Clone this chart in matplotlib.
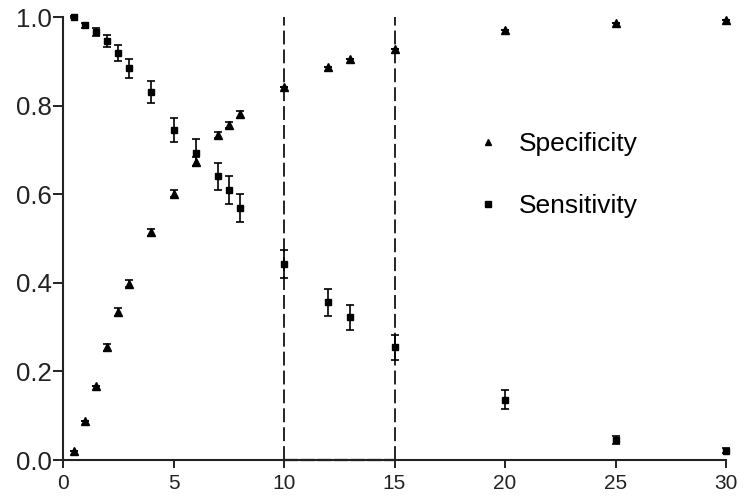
import matplotlib
matplotlib.use("Agg")
import matplotlib.pyplot as plt
from matplotlib.lines import Line2D

plt.rcParams['font.family'] = ['Liberation Sans', 'DejaVu Sans']
plt.rcParams['lines.scale_dashes'] = False

x_sens = [0.5, 1, 1.5, 2, 2.5, 3, 4, 5, 6, 7, 7.5, 8, 10, 12, 13, 15, 20, 25, 30]
sensitivity = [1.0, 0.981, 0.966, 0.946, 0.919, 0.884, 0.831, 0.745, 0.694, 0.640,
               0.610, 0.569, 0.443, 0.356, 0.322, 0.254, 0.136, 0.045, 0.021]
sens_err = [0.003, 0.006, 0.010, 0.014, 0.018, 0.021, 0.025, 0.028, 0.030, 0.030,
            0.031, 0.032, 0.032, 0.031, 0.029, 0.028, 0.022, 0.010, 0.005]

x_spec = [0.5, 1, 1.5, 2, 2.5, 3, 4, 5, 6, 7, 7.5, 8, 10, 12, 13, 15, 20, 25, 30]
specificity = [0.021, 0.087, 0.167, 0.254, 0.334, 0.398, 0.514, 0.601, 0.673, 0.734,
               0.757, 0.780, 0.841, 0.887, 0.905, 0.928, 0.970, 0.987, 0.994]
spec_err = [0.0, 0.0, 0.0, 0.007, 0.008, 0.008, 0.008, 0.008, 0.010, 0.007,
            0.007, 0.007, 0.0, 0.0, 0.0, 0.0, 0.0, 0.0, 0.0]

cutoffs = [10, 15]
x_ticks = [0, 5, 10, 15, 20, 25, 30]
y_ticks = [0.0, 0.2, 0.4, 0.6, 0.8, 1.0]
labels = ['Specificity', 'Sensitivity']

fig = plt.figure(figsize=(7.44, 4.98), dpi=100)
ax = fig.add_axes([63/744, 1-460/498, (726-63)/744, (460-17)/498])

for c in cutoffs:
    ax.plot([c, c], [0, 1], color='black', lw=1.2, dashes=(10, 3.6), zorder=1)
ax.plot([cutoffs[0], cutoffs[1]], [0, 0], color='black', lw=1.6, dashes=(10, 2),
        zorder=1, clip_on=False)

ax.errorbar(x_spec, specificity, yerr=spec_err, fmt='^', color='black', ms=5.2,
            elinewidth=1.2, capsize=3, capthick=1.2, clip_on=False, zorder=3)
ax.errorbar(x_sens, sensitivity, yerr=sens_err, fmt='s', color='black', ms=5,
            elinewidth=1.2, capsize=3, capthick=1.2, clip_on=False, zorder=3)

ax.set_xlim(0, 30)
ax.set_ylim(0, 1)
ax.set_xticks(x_ticks)
ax.set_yticks(y_ticks)
ax.set_yticklabels([f'{v:.1f}' for v in y_ticks])
for s in ['top', 'right']:
    ax.spines[s].set_visible(False)
for s in ['left', 'bottom']:
    ax.spines[s].set_linewidth(1.5)
    ax.spines[s].set_color('#222222')
ax.tick_params(axis='y', direction='out', length=7, width=1.4, labelsize=18.5,
               colors='#222222', pad=1)
ax.tick_params(axis='x', direction='out', length=5.5, width=1.4, labelsize=15,
               colors='#222222', pad=4.5)

handles = [Line2D([], [], marker='^', ls='none', color='black', ms=5),
           Line2D([], [], marker='s', ls='none', color='black', ms=5)]
leg = ax.legend(handles, labels, loc='center left', bbox_to_anchor=(0.585, 0.643),
                frameon=False, fontsize=19, handletextpad=0.68, labelspacing=1.42,
                handlelength=1.0, borderpad=0.4)

fig.savefig('out.png', dpi=100)
